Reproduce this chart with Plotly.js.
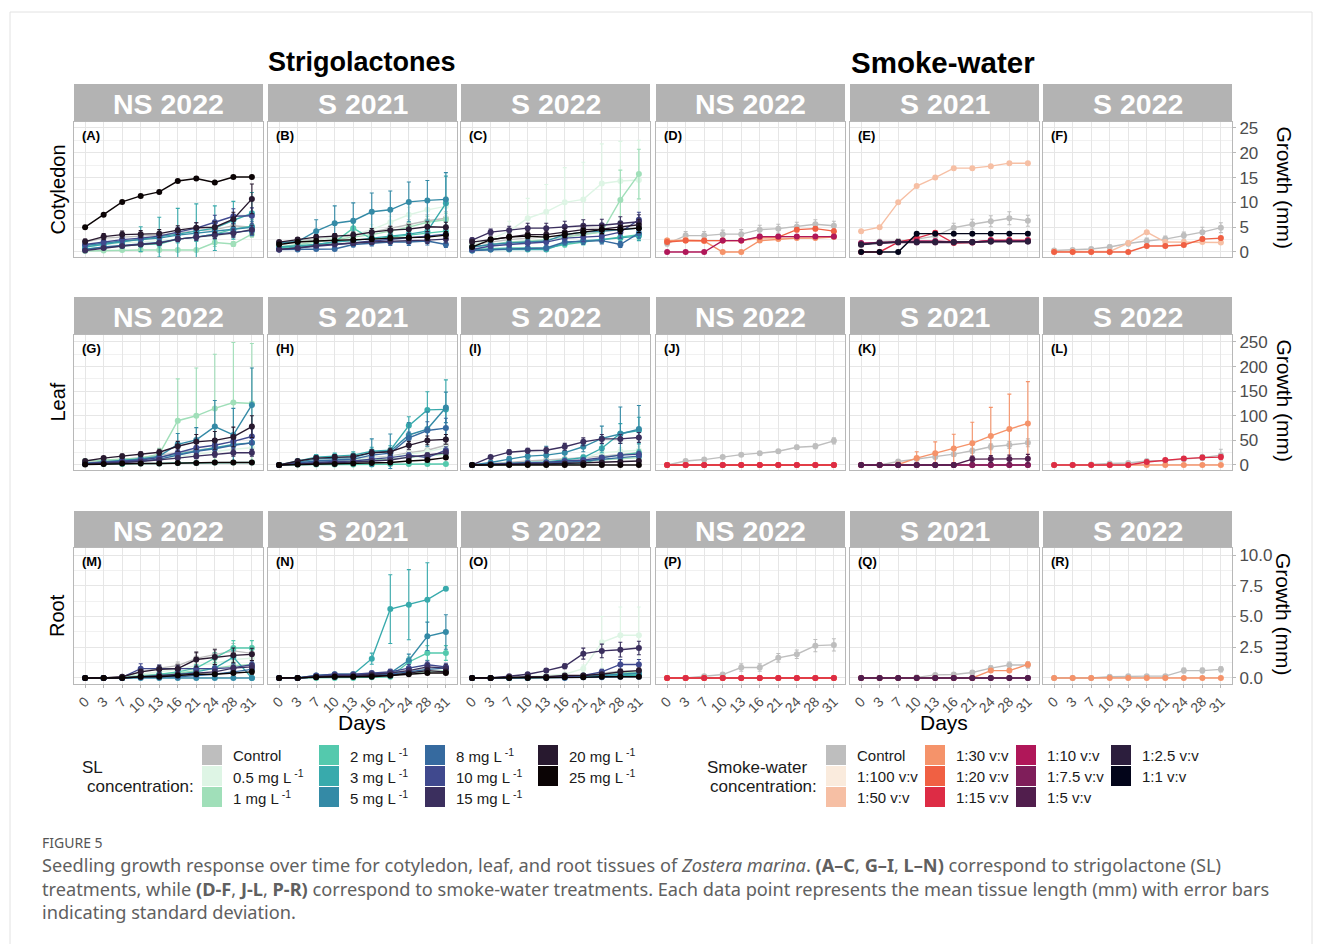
<!DOCTYPE html>
<html><head><meta charset="utf-8">
<script src="https://cdn.plot.ly/plotly-3.0.1.min.js"></script>
<style>html,body{margin:0;padding:0;background:#fff}#chart{width:1322px;height:944px}</style>
</head><body><div id="chart"></div>
<script>
// ---------------- categories / labels ----------------
const DAYS = ['0','3','7','10','13','16','21','24','28','31'];
const COLUMN_HEADERS = ['NS 2022','S 2021','S 2022','NS 2022','S 2021','S 2022'];
const ROW_LABELS = ['Cotyledon','Leaf','Root'];
const PANEL_LETTERS = ['A','B','C','D','E','F','G','H','I','J','K','L','M','N','O','P','Q','R'];
const SL_LEVELS = ['Control','0.5 mg L<sup> -1</sup>','1 mg L<sup> -1</sup>','2 mg L<sup> -1</sup>','3 mg L<sup> -1</sup>','5 mg L<sup> -1</sup>','8 mg L<sup> -1</sup>','10 mg L<sup> -1</sup>','15 mg L<sup> -1</sup>','20 mg L<sup> -1</sup>','25 mg L<sup> -1</sup>'];
const SL_COLORS = ['#BEBEBE','#DEF5E5','#A0DFB9','#54C9AD','#38AAAC','#348AA6','#366A9F','#40498E','#3B2F5E','#28192F','#0B0405'];
const SW_LEVELS = ['Control','1:100 v:v','1:50 v:v','1:30 v:v','1:20 v:v','1:15 v:v','1:10 v:v','1:7.5 v:v','1:5 v:v','1:2.5 v:v','1:1 v:v'];
const SW_COLORS = ['#BEBEBE','#FAEBDD','#F6BFA4','#F5936A','#F06043','#DD2C45','#B01759','#7F1E5A','#511E4D','#2C1E3D','#03051A'];

// ---------------- data: mean and SD per panel (rows follow the level order) ----------------
const Z = [0,0,0,0,0,0,0,0,0,0];
// (A) Cotyledon NS 2022, SL
const A_mean = [
 [2.0,2.8,3.0,3.2,3.4,3.8,4.3,4.5,5.3,5.0],
 [1.0,1.5,1.8,2.0,2.3,2.6,3.0,3.2,3.8,4.6],
 [0.2,0.3,0.4,0.4,0.4,0.4,0.4,1.9,1.6,3.6],
 [0.6,0.9,1.2,1.5,1.6,2.6,3.0,3.6,4.6,5.2],
 [1.0,1.5,2.0,2.6,3.0,3.6,4.2,4.8,6.4,7.8],
 [1.3,1.8,2.2,2.5,2.8,3.4,3.8,4.2,4.6,5.0],
 [0.5,1.0,1.3,1.6,1.9,2.6,3.0,3.6,4.0,4.3],
 [1.5,2.0,2.5,2.8,3.2,4.0,4.8,6.0,7.2,7.3],
 [0.3,0.8,1.2,1.5,1.8,2.6,3.0,3.4,3.8,4.5],
 [2.1,3.1,3.5,3.6,3.7,4.4,4.9,5.0,6.6,10.7],
 [5.0,7.5,10.1,11.3,12.1,14.3,14.8,14.0,15.1,15.1]];
const A_sd = [
 [0.2,0.5,0.5,0.6,0.6,0.7,0.8,0.8,0.9,1.0],
 [0.2,0.3,0.4,0.4,0.5,0.5,0.6,0.6,0.7,0.8],
 [0.1,0.1,0.1,0.1,0.1,0.1,0.1,0.8,0.5,0.6],
 [0.3,0.4,0.5,0.6,0.6,0.8,0.9,1.0,1.2,1.4],
 [0.3,0.5,0.8,2.5,4.0,5.2,5.5,4.5,3.8,4.2],
 [0.3,0.4,0.5,0.6,0.7,0.8,0.9,1.0,1.1,1.2],
 [0.2,0.3,0.4,0.5,0.5,0.6,0.7,0.8,0.9,1.0],
 [0.4,0.5,0.6,0.7,0.8,1.0,1.1,1.4,1.5,1.6],
 [0.2,0.3,0.3,0.4,0.4,0.5,0.6,0.7,0.8,0.9],
 [0.5,0.6,0.7,0.7,0.8,0.9,1.0,1.1,1.4,3.0],
 [0,0,0,0,0,0,0,0,0,0]];
// (B) Cotyledon S 2021, SL
const B_mean = [
 [1.8,2.3,2.6,3.0,3.3,4.0,4.8,5.5,6.3,6.8],
 [1.5,2.0,2.5,3.0,3.5,4.5,6.0,7.5,8.5,9.2],
 [1.0,1.5,2.0,2.5,3.0,3.5,4.2,5.0,6.0,6.5],
 [0.8,1.0,1.5,2.0,4.8,2.6,3.0,3.4,3.8,4.2],
 [1.0,1.2,1.5,2.0,2.3,2.8,3.2,3.6,4.2,9.8],
 [1.8,2.1,4.2,5.8,6.3,8.1,8.5,10.1,10.4,10.6],
 [0.5,0.5,0.6,0.6,1.5,1.8,2.0,2.0,2.2,1.5],
 [0.5,0.8,1.2,1.5,1.8,2.2,2.5,2.8,3.2,3.6],
 [0.5,0.8,1.3,1.6,1.8,2.0,2.2,2.3,2.4,2.6],
 [2.0,2.5,3.0,3.2,3.4,4.0,4.4,4.6,5.1,5.0],
 [1.5,2.0,2.2,2.3,2.4,2.6,2.8,2.9,3.0,3.4]];
const B_sd = [
 [0.3,0.4,0.5,0.6,0.7,0.8,0.9,1.0,1.2,1.3],
 [0.3,0.4,0.5,0.6,0.8,1.0,1.2,1.5,1.8,2.0],
 [0.3,0.4,0.5,0.6,0.7,0.8,0.9,1.0,1.2,1.3],
 [0.2,0.3,0.4,0.5,1.0,0.6,0.7,0.8,0.9,1.0],
 [0.2,0.3,0.4,0.5,0.5,0.6,0.7,0.8,0.9,5.5],
 [0.3,0.6,2.3,3.5,3.6,3.8,3.8,4.0,4.0,5.4],
 [0.2,0.2,0.2,0.2,0.5,0.6,0.7,0.7,0.8,0.6],
 [0.2,0.3,0.4,0.5,0.5,0.6,0.7,0.8,0.9,1.0],
 [0.2,0.3,0.4,0.4,0.5,0.5,0.6,0.6,0.7,0.8],
 [0.3,0.4,0.5,0.5,0.6,0.7,0.8,0.9,1.0,1.0],
 [0.3,0.3,0.4,0.4,0.4,0.5,0.5,0.5,0.6,0.7]];
// (C) Cotyledon S 2022, SL
const C_mean = [
 [1.5,2.0,2.5,2.8,3.0,3.3,3.6,4.0,4.5,5.0],
 [1.5,2.6,4.2,6.8,8.1,10.0,10.6,13.8,14.3,14.5],
 [1.0,1.5,2.0,2.2,2.5,3.0,3.5,4.0,10.5,15.7],
 [0.5,0.7,0.8,0.8,0.8,1.5,2.0,2.5,3.0,3.5],
 [0.3,0.5,0.5,0.5,0.5,1.8,2.3,2.5,2.8,3.2],
 [1.0,1.5,1.8,2.0,2.2,3.5,4.0,4.2,4.5,4.8],
 [0.3,0.5,0.6,0.7,0.8,2.0,2.2,2.3,1.5,3.8],
 [0.5,1.2,1.5,1.8,2.0,2.8,3.0,3.2,4.0,6.5],
 [2.4,4.0,4.4,4.8,4.8,5.1,5.3,5.4,5.8,6.1],
 [2.0,2.5,3.0,3.5,3.5,4.0,4.5,4.6,5.0,5.5],
 [1.0,2.5,3.0,3.2,3.0,3.5,4.0,4.5,4.5,4.8]];
const C_sd = [
 [0.3,0.4,0.5,0.5,0.6,0.6,0.7,0.8,0.9,1.0],
 [0.5,1.0,2.0,4.0,5.5,7.0,7.5,8.0,8.0,8.0],
 [0.3,0.4,0.5,0.5,0.6,0.7,0.8,0.9,6.0,5.0],
 [0.2,0.3,0.3,0.3,0.3,0.5,0.6,0.7,0.8,0.9],
 [0.1,0.2,0.2,0.2,0.2,0.5,0.6,0.7,0.8,0.9],
 [0.3,0.4,0.5,0.6,0.6,0.8,1.0,1.1,1.2,1.3],
 [0.1,0.2,0.2,0.3,0.3,0.6,0.7,0.7,0.6,1.0],
 [0.2,0.4,0.5,0.6,0.6,0.8,0.9,1.0,1.2,1.5],
 [0.4,0.6,0.8,1.0,1.0,1.1,1.2,1.2,1.3,1.4],
 [0.4,0.5,0.6,0.7,0.7,0.8,0.9,0.9,1.0,1.1],
 [0.3,0.4,0.5,0.5,0.5,0.6,0.7,0.8,0.8,0.9]];
// (D) Cotyledon NS 2022, smoke-water
const D_mean = [
 [1.7,3.3,3.3,3.6,3.6,4.5,4.7,5.1,5.6,5.3], null,
 [2.3,2.5,2.3,2.3,2.3,2.7,2.8,2.9,2.9,3.2],
 [2.3,2.3,2.2,0,0,2.3,2.6,2.8,2.8,3.0],
 [2.0,2.3,2.3,2.3,2.3,3.0,3.0,4.5,4.7,4.2], null,
 [0,0,0,2.3,2.3,3.1,3.1,3.1,3.1,3.1], null, null, null, null];
const D_sd = [
 [0.5,0.8,0.8,0.8,0.9,0.9,0.9,0.9,0.9,0.9], null,
 [0.2,0.2,0.2,0.2,0.2,0.2,0.2,0.2,0.2,0.2],
 [0.2,0.2,0.2,0,0,0.2,0.2,0.2,0.2,0.2],
 [0.3,0.3,0.3,0.3,0.3,0.3,0.3,0.4,0.4,0.4], null,
 [0,0,0,0.2,0.2,0.2,0.2,0.2,0.2,0.2], null, null, null, null];
// (E) Cotyledon S 2021, smoke-water
const E_mean = [
 [1.3,2.1,2.2,2.6,3.2,4.9,5.6,6.2,6.8,6.3], null,
 [4.2,5.0,10.0,13.3,15.0,16.9,16.9,17.3,17.9,17.9], null, null,
 [0,0,2.0,2.8,3.9,1.8,1.9,2.4,2.4,2.4],
 [1.8,1.8,2.0,2.2,2.2,2.0,2.0,2.3,2.3,2.3],
 [1.6,1.9,2.0,2.0,2.0,2.0,2.0,2.2,2.2,2.2],
 [1.5,1.9,1.9,1.9,1.9,1.9,1.9,2.1,2.1,2.1],
 [1.5,1.8,2.0,2.0,2.0,2.0,2.0,2.1,2.1,2.1],
 [0,0,0,3.7,3.7,3.7,3.7,3.7,3.7,3.7]];
const E_sd = [
 [0.3,0.4,0.5,0.5,0.6,0.9,1.0,1.1,1.3,1.1], null,
 [0.1,0.1,0.1,0.1,0.1,0.1,0.1,0.1,0.1,0.1], null, null,
 [0,0,0.2,0.2,0.3,0.2,0.2,0.2,0.2,0.2],
 [0.2,0.2,0.2,0.2,0.2,0.2,0.2,0.2,0.2,0.2],
 [0.2,0.2,0.2,0.2,0.2,0.2,0.2,0.2,0.2,0.2],
 [0.2,0.2,0.2,0.2,0.2,0.2,0.2,0.2,0.2,0.2],
 [0.2,0.2,0.2,0.2,0.2,0.2,0.2,0.2,0.2,0.2],
 [0,0,0,0.1,0.1,0.1,0.1,0.1,0.1,0.1]];
// (F) Cotyledon S 2022, smoke-water
const F_mean = [
 [0.3,0.4,0.6,1.0,1.7,2.2,2.6,3.3,4.0,4.9], null,
 [0.1,0.1,0.1,0.1,1.8,4.0,2.0,2.0,2.0,1.9], null,
 [0,0,0,0,0,1.2,1.2,1.4,2.6,2.8], null, null, null, null, null, null];
const F_sd = [
 [0.2,0.3,0.3,0.4,0.5,0.6,0.6,0.7,1.0,1.0], null,
 [0.05,0.05,0.05,0.05,0.2,0.2,0.2,0.2,0.2,0.2], null,
 [0,0,0,0,0,0.2,0.2,0.2,0.3,0.3], null, null, null, null, null, null];
// (G) Leaf NS 2022, SL
const G_mean = [
 [5,8,12,15,20,25,30,35,40,45],
 [3,5,7,9,12,17,22,27,32,35],
 [8,10,12,14,22,90,100,115,127,125],
 [2,2,2,3,3,4,4,5,5,5],
 [3,6,9,12,16,22,28,35,42,45],
 [3,6,9,12,18,42,51,78,61,122],
 [2,4,6,8,12,20,28,33,40,45],
 [3,5,8,10,15,25,35,40,48,58],
 [2,3,5,7,10,14,18,22,25,25],
 [8,14,18,22,26,38,47,50,57,78],
 [1,2,3,3,3,4,4,5,5,5]];
const G_sd = [
 [2,3,4,5,6,7,8,9,10,11],
 [1,2,3,3,4,5,6,7,8,9],
 [4,4,5,5,12,85,97,110,122,122],
 [1,1,1,1,1,1,1,2,2,2],
 [1,2,3,4,5,6,8,10,12,14],
 [1,2,3,4,6,22,25,53,54,75],
 [1,2,2,3,4,6,8,10,12,14],
 [1,2,3,3,5,7,10,12,14,16],
 [1,1,2,2,3,4,5,6,7,7],
 [2,3,4,5,6,10,15,18,20,22],
 [0.5,1,1,1,1,1,1,2,2,2]];
// (H) Leaf S 2021, SL
const H_mean = [
 [0,5,8,10,12,15,18,25,30,40],
 [0,4,7,9,11,14,17,22,27,35],
 [0,3,5,7,8,10,12,15,18,22],
 [0,1,1,1,1,1,2,2,2,2],
 [0,8,16,18,20,28,30,80,112,113],
 [0,6,12,14,15,25,28,61,73,117],
 [0,4,8,10,12,20,24,55,70,75],
 [0,3,5,7,8,12,15,20,15,30],
 [0,2,4,5,6,8,10,16,20,25],
 [0,8,14,16,17,25,27,40,50,52],
 [0,1,2,2,3,4,5,8,10,15]];
const H_sd = [
 [0,2,3,3,4,4,5,6,7,8],
 [0,2,2,3,3,4,5,6,7,8],
 [0,1,2,2,2,3,3,4,5,6],
 [0,0.5,0.5,0.5,0.5,0.5,1,1,1,1],
 [0,3,5,6,7,8,9,18,37,60],
 [0,2,4,5,5,28,35,25,35,31],
 [0,2,3,3,4,5,6,12,18,20],
 [0,1,2,2,2,3,4,5,5,7],
 [0,1,1,2,2,2,3,4,5,6],
 [0,3,4,5,5,6,7,8,9,10],
 [0,0.5,1,1,1,1,2,2,3,4]];
// (I) Leaf S 2022, SL
const I_mean = [
 [0,3,6,8,10,12,15,18,22,25],
 [0,2,4,5,6,10,14,25,28,30],
 [0,1,2,3,4,6,8,10,12,15],
 [0,1,1,1,1,2,3,15,20,25],
 [0,2,4,5,6,10,15,34,64,70],
 [0,5,12,18,20,25,37,54,63,73],
 [0,1,2,3,3,5,8,12,15,18],
 [0,2,3,4,5,8,10,15,20,22],
 [0,16,26,29,30,37,47,53,53,56],
 [0,1,1,2,2,3,4,5,6,8],
 [0,0,0,0,0,0,0,0,0,0]];
const I_sd = [
 [0,1,2,2,3,3,4,5,6,7],
 [0,1,2,2,2,3,4,6,7,8],
 [0,0.5,1,1,1,2,2,3,3,4],
 [0,0.5,0.5,0.5,0.5,1,1,4,5,6],
 [0,1,2,2,2,4,5,9,20,27],
 [0,2,5,8,18,16,10,25,55,48],
 [0,0.5,1,1,1,2,2,3,4,5],
 [0,1,1,1,2,2,3,4,5,6],
 [0,3,5,5,6,7,8,9,9,10],
 [0,0.5,0.5,1,1,1,1,2,2,2],
 [0,0,0,0,0,0,0,0,0,0]];
// (J) Leaf NS 2022, smoke-water
const J_mean = [[0,8,11,16,21,24,28,36,38,49], null, Z, Z, Z, Z, null, null, null, null, null];
const J_sd = [[0,1,1.5,2,2,3,3,4,5,6], null, Z, Z, Z, Z, null, null, null, null, null];
// (K) Leaf S 2021, smoke-water
const K_mean = [
 [0,0,7,12,16,22,29,37,40.5,45], null, null,
 [0,0,1,14,24,33.5,44,59,73,84.5], null, null, Z, Z,
 [0,0,0,0,0,0,12,12,12,12.5], null, null];
const K_sd = [
 [0,0.5,1,2,3,4,5,6,7,8], null, null,
 [0,0,1,13,23,29,43,58,71,85], null, null, Z, Z,
 [0,0,0,0,0,0,6,7,8,9], null, null];
// (L) Leaf S 2022, smoke-water
const L_mean = [[0,0,1,3,4,8,9,12,15,20], null, null, Z, null, [0,0,0,0,0,6,10,13,15,16], null, null, null, null, null];
const L_sd = [[0,0,1,1,2,3,4,5,6,12], null, null, Z, null, [0,0,0,0,0,2,3,3,4,4], null, null, null, null, null];
// (M) Root NS 2022, SL
const M_mean = [
 [0,0,0.1,0.5,0.8,1.0,1.6,1.9,2.2,2.0],
 [0,0,0.05,0.3,0.5,0.7,1.0,1.2,1.5,1.6],
 [0,0,0.05,0.2,0.3,0.4,0.6,0.8,1.0,1.1],
 [0,0,0,0.1,0.3,0.5,0.8,1.65,2.44,2.44],
 [0,0,0,0.1,0.2,0.3,0.5,0.8,1.7,0],
 [0,0,0,0,0,0,0,0,0,0],
 [0,0,0,0.05,0.1,0.1,0.2,0.3,0.5,0.7],
 [0,0,0.05,0.76,0.76,0.7,0.7,0.76,0.84,1.08],
 [0,0,0,0.1,0.2,0.3,0.4,0.5,0.8,0.9],
 [0,0,0.1,0.5,0.7,0.76,1.5,1.7,1.84,1.92],
 [0,0,0,0.1,0.1,0.2,0.3,0.3,0.4,0.5]];
const M_sd = [
 [0,0,0.05,0.2,0.3,0.3,0.4,0.5,0.6,0.6],
 [0,0,0.03,0.1,0.2,0.2,0.3,0.3,0.4,0.4],
 [0,0,0.03,0.1,0.1,0.1,0.2,0.2,0.3,0.3],
 [0,0,0,0.05,0.1,0.2,0.3,0.4,0.6,0.6],
 [0,0,0,0.05,0.1,0.1,0.2,0.3,0.5,0],
 [0,0,0,0,0,0,0,0,0,0],
 [0,0,0,0.03,0.05,0.05,0.1,0.1,0.2,0.2],
 [0,0,0.03,0.4,0.3,0.3,0.3,0.3,0.3,0.3],
 [0,0,0,0.05,0.1,0.1,0.1,0.2,0.2,0.3],
 [0,0,0.05,0.2,0.3,0.3,0.6,0.6,0.6,0.5],
 [0,0,0,0.05,0.05,0.1,0.1,0.1,0.1,0.2]];
// (N) Root S 2021, SL
const N_mean = [
 [0,0,0.1,0.2,0.3,0.4,0.5,0.6,0.8,0.9],
 [0,0,0.1,0.2,0.2,0.3,0.4,0.5,0.7,0.8],
 [0,0,0.05,0.1,0.1,0.2,0.3,0.4,0.5,0.6],
 [0,0,0,0,0,0.05,0.1,1.3,2.03,2.03],
 [0,0,0.2,0.3,0.3,1.57,5.6,5.96,6.37,7.26],
 [0,0,0.1,0.1,0.2,0.3,0.4,1.44,3.39,3.74],
 [0,0,0.1,0.2,0.2,0.3,0.3,0.5,0.7,0.8],
 [0,0,0.2,0.3,0.3,0.4,0.5,0.8,1.08,0.9],
 [0,0,0.1,0.2,0.2,0.3,0.4,0.6,0.9,0.8],
 [0,0,0.1,0.1,0.1,0.2,0.2,0.4,0.6,0.5],
 [0,0,0.05,0.1,0.1,0.1,0.2,0.3,0.4,0.4]];
const N_sd = [
 [0,0,0.05,0.1,0.1,0.1,0.2,0.2,0.3,0.3],
 [0,0,0.05,0.1,0.1,0.1,0.1,0.2,0.2,0.3],
 [0,0,0.03,0.05,0.05,0.1,0.1,0.1,0.2,0.2],
 [0,0,0,0,0,0.03,0.05,0.4,0.6,0.6],
 [0,0,0.1,0.1,0.1,0.45,2.8,2.85,3.0,0.1],
 [0,0,0.05,0.05,0.1,0.1,0.1,0.5,1.15,1.4],
 [0,0,0.05,0.1,0.1,0.1,0.1,0.2,0.2,0.2],
 [0,0,0.1,0.1,0.1,0.1,0.2,0.3,0.3,0.3],
 [0,0,0.05,0.1,0.1,0.1,0.1,0.2,0.3,0.3],
 [0,0,0.05,0.05,0.05,0.1,0.1,0.1,0.2,0.2],
 [0,0,0.03,0.05,0.05,0.05,0.1,0.1,0.1,0.1]];
// (O) Root S 2022, SL
const O_mean = [
 [0,0,0.05,0.05,0.1,0.1,0.2,0.4,0.55,0.6],
 [0,0,0.05,0.1,0.2,0.3,0.76,2.9,3.47,3.47],
 [0,0,0,0.05,0.1,0.1,0.2,0.3,0.4,0.5],
 [0,0,0,0,0.05,0.05,0.1,0.2,0.3,0.3],
 [0,0,0,0,0.05,0.05,0.1,0.1,0.2,0.2],
 [0,0,0,0.05,0.05,0.1,0.1,0.2,0.3,0.4],
 [0,0,0,0,0,0,0.05,0.05,0.1,0.1],
 [0,0,0.05,0.05,0.1,0.1,0.2,0.5,1.1,1.1],
 [0,0,0.14,0.3,0.6,0.95,1.98,2.2,2.3,2.44],
 [0,0,0.05,0.1,0.1,0.2,0.2,0.3,0.5,0.6],
 [0,0,0,0,0,0.05,0.05,0.1,0.1,0.1]];
const O_sd = [
 [0,0,0.02,0.02,0.05,0.05,0.1,0.15,0.2,0.2],
 [0,0,0.02,0.05,0.1,0.1,0.3,2.1,2.3,2.3],
 [0,0,0,0.02,0.05,0.05,0.1,0.1,0.15,0.2],
 [0,0,0,0,0.02,0.02,0.05,0.1,0.1,0.1],
 [0,0,0,0,0.02,0.02,0.05,0.05,0.1,0.1],
 [0,0,0,0.02,0.02,0.05,0.05,0.1,0.1,0.15],
 [0,0,0,0,0,0,0.02,0.02,0.05,0.05],
 [0,0,0.02,0.02,0.05,0.05,0.1,0.2,0.4,0.4],
 [0,0,0.05,0.1,0.15,0.2,0.45,0.55,0.6,0.55],
 [0,0,0.02,0.05,0.05,0.1,0.1,0.1,0.2,0.2],
 [0,0,0,0,0,0.02,0.02,0.05,0.05,0.05]];
// (P) Root NS 2022, smoke-water
const P_mean = [[0,0,0.14,0.28,0.85,0.85,1.64,1.93,2.63,2.69], null, Z, Z, Z, Z, null, null, null, null, null];
const P_sd = [[0,0,0.05,0.1,0.3,0.3,0.35,0.35,0.5,0.5], null, Z, Z, Z, Z, null, null, null, null, null];
// (Q) Root S 2021, smoke-water
const Q_mean = [[0,0,0,0.05,0.25,0.28,0.45,0.8,1.05,1.05], null, null, [0,0,0,0,0,0,0,0.6,0.6,1.1], null, null, null, Z, Z, null, null];
const Q_sd = [[0,0,0,0.05,0.1,0.1,0.15,0.2,0.25,0.25], null, null, [0,0,0,0,0,0,0,0.1,0.1,0.2], null, null, null, Z, Z, null, null];
// (R) Root S 2022, smoke-water
const R_mean = [[0,0,0,0.1,0.15,0.15,0.15,0.6,0.6,0.7], null, null, Z, null, null, null, null, null, null, null];
const R_sd = [[0,0,0,0.05,0.08,0.1,0.1,0.2,0.2,0.2], null, null, Z, null, null, null, null, null, null, null];

// ---------------- layout geometry (pixels) ----------------
const W = 1322, H = 944;
const COLS = [[74,263],[268,457],[461,650],[656,845],[850,1039],[1043,1232]];
const ROWS = [{strip:[84,122], plot:[122,257]}, {strip:[297,335], plot:[335,470]}, {strip:[511,548], plot:[548,684]}];
const YCFG = [
  {range:[-1.01,26.2], dtick:5, minor:2.5, fmt:''},
  {range:[-10.2,264.2], dtick:50, minor:25, fmt:''},
  {range:[-0.49,10.57], dtick:2.5, minor:1.25, fmt:'.1f'}];
const PANELS = [
  [[A_mean,A_sd],[B_mean,B_sd],[C_mean,C_sd],[D_mean,D_sd],[E_mean,E_sd],[F_mean,F_sd]],
  [[G_mean,G_sd],[H_mean,H_sd],[I_mean,I_sd],[J_mean,J_sd],[K_mean,K_sd],[L_mean,L_sd]],
  [[M_mean,M_sd],[N_mean,N_sd],[O_mean,O_sd],[P_mean,P_sd],[Q_mean,Q_sd],[R_mean,R_sd]]];

const px = x => x / W, py = y => 1 - y / H;
const FONT = 'Liberation Sans, Arial, sans-serif';
const traces = [], shapes = [], annotations = [];
const layout = {width:W, height:H, margin:{l:0,r:0,t:0,b:0}, paper_bgcolor:'#fff', plot_bgcolor:'#fff',
  showlegend:false, font:{family:FONT, color:'#1a1a1a'}};

function ann(text, x, y, o) {
  o = o || {};
  annotations.push(Object.assign({text, x:px(x), y:py(y), xref:'paper', yref:'paper', showarrow:false,
    xanchor:'center', yanchor:'middle', font:{family:FONT, size:15, color:'#1a1a1a'}}, o));
}

for (let r = 0; r < 3; r++) {
  for (let c = 0; c < 6; c++) {
    const k = r * 6 + c + 1;
    const xa = k === 1 ? 'x' : 'x' + k, ya = k === 1 ? 'y' : 'y' + k;
    const [x0, x1] = COLS[c];
    const [pt, pb] = ROWS[r].plot;
    const cfg = YCFG[r];
    layout[k === 1 ? 'xaxis' : 'xaxis' + k] = {
      domain:[px(x0), px(x1)], anchor:ya, type:'category', categoryorder:'array', categoryarray:DAYS,
      range:[-0.6, 9.6], showgrid:true, gridcolor:'#E6E6E6', gridwidth:1, zeroline:false,
      showline:true, mirror:true, linecolor:'#B8B8B8', linewidth:1, fixedrange:true,
      showticklabels:r === 2, ticks:r === 2 ? 'outside' : '', ticklen:3, tickcolor:'#B8B8B8',
      tickangle:-45, tickfont:{family:FONT, size:14, color:'#4D4D4D'}};
    layout[k === 1 ? 'yaxis' : 'yaxis' + k] = {
      domain:[py(pb), py(pt)], anchor:xa, range:cfg.range, tick0:0, dtick:cfg.dtick, tickformat:cfg.fmt,
      minor:{tick0:0, dtick:cfg.minor, showgrid:true, gridcolor:'#F1F1F1', gridwidth:1},
      showgrid:true, gridcolor:'#E6E6E6', gridwidth:1, zeroline:false,
      showline:true, mirror:true, linecolor:'#B8B8B8', linewidth:1, fixedrange:true,
      side:c === 5 ? 'right' : 'left', showticklabels:c === 5, ticks:c === 5 ? 'outside' : '',
      ticklen:3, tickcolor:'#B8B8B8', tickfont:{family:FONT, size:17, color:'#4D4D4D'}};

    // strip
    const [st, sb] = ROWS[r].strip;
    shapes.push({type:'rect', xref:'paper', yref:'paper', x0:px(x0), x1:px(x1), y0:py(sb), y1:py(st),
      fillcolor:'#B3B3B3', line:{width:0}, layer:'below'});
    ann('<b>' + COLUMN_HEADERS[c] + '</b>', (x0 + x1) / 2, (st + sb) / 2 + 1,
      {font:{family:FONT, size:28.5, color:'#ffffff'}});
    ann('<b>(' + PANEL_LETTERS[k - 1] + ')</b>', x0 + 6, pt + 4,
      {xanchor:'left', yanchor:'top', font:{family:FONT, size:13, color:'#000'}});

    // data traces
    const [means, sds] = PANELS[r][c];
    const colors = c < 3 ? SL_COLORS : SW_COLORS;
    means.forEach((m, j) => {
      if (!m) return;
      traces.push({type:'scatter', mode:'lines+markers', x:DAYS, y:m, xaxis:xa, yaxis:ya,
        line:{color:colors[j], width:1.4}, marker:{color:colors[j], size:6},
        error_y:{type:'data', array:sds[j], visible:true, color:colors[j], thickness:1.1, width:2},
        hoverinfo:'skip'});
    });
  }
}

// titles & axis titles
ann('<b>Strigolactones</b>', 362, 62, {font:{family:FONT, size:27, color:'#000'}});
ann('<b>Smoke-water</b>', 943, 62, {font:{family:FONT, size:29.5, color:'#000'}});
ROW_LABELS.forEach((t, r) => ann(t, 57, (ROWS[r].plot[0] + ROWS[r].plot[1]) / 2,
  {textangle:-90, font:{family:FONT, size:20, color:'#000'}}));
ROWS.forEach(R => ann('Growth (mm)', 1284, (R.plot[0] + R.plot[1]) / 2 - 2,
  {textangle:90, font:{family:FONT, size:21, color:'#000'}}));
ann('Days', 362, 722, {font:{family:FONT, size:21, color:'#000'}});
ann('Days', 944, 722, {font:{family:FONT, size:21, color:'#000'}});

// legends
const LEG_ROWS = [755, 776, 797];
function legend(levels, colors, sqX, lbX) {
  levels.forEach((lab, i) => {
    const col = Math.floor(i / 3), row = i % 3;
    const cy = LEG_ROWS[row];
    shapes.push({type:'rect', xref:'paper', yref:'paper', x0:px(sqX[col]), x1:px(sqX[col] + 20),
      y0:py(cy + 10), y1:py(cy - 10), fillcolor:colors[i], line:{width:0}});
    ann(lab, lbX[col], cy, {xanchor:'left', font:{family:FONT, size:15, color:'#1a1a1a'}});
  });
}
legend(SL_LEVELS, SL_COLORS, [202, 319, 425, 538], [231, 348, 454, 567]);
legend(SW_LEVELS, SW_COLORS, [826, 925, 1016, 1111], [855, 954, 1045, 1140]);
ann('SL', 80, 767, {xanchor:'left', font:{family:FONT, size:17, color:'#1a1a1a'}});
ann('concentration:', 85, 786, {xanchor:'left', font:{family:FONT, size:17, color:'#1a1a1a'}});
ann('Smoke-water', 705, 767, {xanchor:'left', font:{family:FONT, size:17, color:'#1a1a1a'}});
ann('concentration:', 708, 786, {xanchor:'left', font:{family:FONT, size:17, color:'#1a1a1a'}});

// caption
const CAP = 'Noto Sans, Open Sans, sans-serif';
ann('FIGURE 5', 40, 842, {xanchor:'left', font:{family:CAP, size:14, color:'#555'}});
ann('Seedling growth response over time for cotyledon, leaf, and root tissues of <i>Zostera marina</i>. <b>(A–C</b>, <b>G–I</b>, <b>L–N)</b> correspond to strigolactone (SL)',
  40, 865, {xanchor:'left', font:{family:CAP, size:18.2, color:'#606060'}});
ann('treatments, while <b>(D-F</b>, <b>J-L</b>, <b>P-R)</b> correspond to smoke-water treatments. Each data point represents the mean tissue length (mm) with error bars',
  40, 889, {xanchor:'left', font:{family:CAP, size:18.2, color:'#606060'}});
ann('indicating standard deviation.', 40, 912, {xanchor:'left', font:{family:CAP, size:18.2, color:'#606060'}});

// card frame
shapes.push({type:'rect', xref:'paper', yref:'paper', x0:px(10), x1:px(1312), y0:py(960), y1:py(12),
  line:{color:'#E2E2E2', width:1}, fillcolor:'rgba(0,0,0,0)', layer:'below'});

layout.shapes = shapes;
layout.annotations = annotations;
Plotly.newPlot('chart', traces, layout, {displayModeBar:false, staticPlot:true});
</script></body></html>
